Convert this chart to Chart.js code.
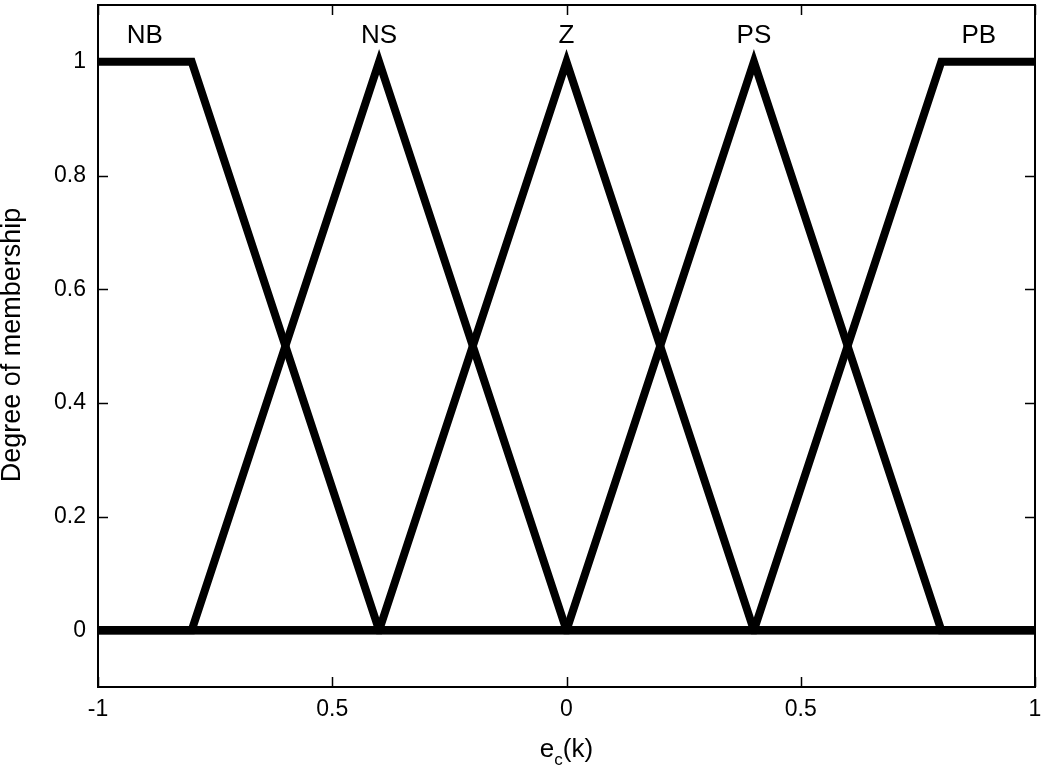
<!DOCTYPE html>
<html>
<head>
<meta charset="utf-8">
<script src="https://cdn.jsdelivr.net/npm/chart.js@4"></script>
<style>
  html, body { margin: 0; padding: 0; background: #fff; }
  #wrap { width: 1041px; height: 772px; }
</style>
</head>
<body>
<div id="wrap"><canvas id="mfChart"></canvas></div>
<script>
// membership functions (x = e_c(k), y = degree)
const nbX = [-1, -0.8, -0.4, 1];
const nbY = [1, 1, 0, 0];
const nsX = [-1, -0.8, -0.4, 0, 1];
const nsY = [0, 0, 1, 0, 0];
const zX = [-1, -0.4, 0, 0.4, 1];
const zY = [0, 0, 1, 0, 0];
const psX = [-1, 0, 0.4, 0.8, 1];
const psY = [0, 0, 1, 0, 0];
const pbX = [-1, 0.4, 0.8, 1];
const pbY = [0, 0, 1, 1];

const setNames = ["NB", "NS", "Z", "PS", "PB"];
const setLabelX = [-0.9, -0.4, 0, 0.4, 0.88];
const setLabelY = 1.045;

const xTicks = [-1, -0.5, 0, 0.5, 1];
const xTickLabels = ["-1", "0.5", "0", "0.5", "1"];
const yTicks = [0, 0.2, 0.4, 0.6, 0.8, 1];
const yTickLabels = ["0", "0.2", "0.4", "0.6", "0.8", "1"];

const FONT = "'Liberation Sans', Arial, Helvetica, sans-serif";

function toPoints(xs, ys) {
  return xs.map((x, i) => ({ x: x, y: ys[i] }));
}

function lineSet(xs, ys) {
  return {
    data: toPoints(xs, ys),
    borderColor: "#000",
    borderWidth: 8,
    pointRadius: 0,
    tension: 0,
    fill: false,
    borderJoinStyle: "miter",
    borderCapStyle: "butt"
  };
}

// frame, inward ticks, set names and axis titles
const decorations = {
  id: "decorations",
  afterDraw(chart) {
    const { ctx, chartArea: a, scales } = chart;
    const xs = scales.x, ys = scales.y;
    ctx.save();
    ctx.strokeStyle = "#000";
    ctx.lineWidth = 2;
    ctx.strokeRect(a.left, a.top, a.right - a.left, a.bottom - a.top);

    ctx.beginPath();
    xTicks.forEach(v => {
      const px = Math.round(xs.getPixelForValue(v)) + 0.5;
      ctx.moveTo(px, a.bottom); ctx.lineTo(px, a.bottom - 10);
      ctx.moveTo(px, a.top); ctx.lineTo(px, a.top + 10);
    });
    yTicks.forEach(v => {
      const py = Math.round(ys.getPixelForValue(v)) + 0.5;
      ctx.moveTo(a.left, py); ctx.lineTo(a.left + 10, py);
      ctx.moveTo(a.right, py); ctx.lineTo(a.right - 10, py);
    });
    ctx.lineWidth = 1.5;
    ctx.stroke();

    ctx.fillStyle = "#000";
    ctx.font = "26px " + FONT;
    ctx.textAlign = "center";
    ctx.textBaseline = "middle";
    setNames.forEach((name, i) => {
      ctx.fillText(name, xs.getPixelForValue(setLabelX[i]), ys.getPixelForValue(setLabelY));
    });

    // x title: e_c(k)
    const cx = (a.left + a.right) / 2;
    const ty = 757;
    ctx.font = "26px " + FONT;
    ctx.textAlign = "left";
    ctx.textBaseline = "alphabetic";
    const wE = ctx.measureText("e").width;
    ctx.font = "17px " + FONT;
    const wC = ctx.measureText("c").width;
    ctx.font = "26px " + FONT;
    const wK = ctx.measureText("(k)").width;
    const x0 = cx - (wE + wC + wK) / 2;
    ctx.fillText("e", x0, ty);
    ctx.font = "17px " + FONT;
    ctx.fillText("c", x0 + wE, ty + 8);
    ctx.font = "26px " + FONT;
    ctx.fillText("(k)", x0 + wE + wC, ty);

    // y title
    ctx.translate(13, 345);
    ctx.rotate(-Math.PI / 2);
    ctx.textAlign = "center";
    ctx.textBaseline = "middle";
    ctx.font = "27px " + FONT;
    ctx.fillText("Degree of membership", 0, 0);
    ctx.restore();
  }
};

const ctx = document.getElementById("mfChart").getContext("2d");

new Chart(ctx, {
  type: "line",
  data: {
    datasets: [
      lineSet(nbX, nbY),
      lineSet(nsX, nsY),
      lineSet(zX, zY),
      lineSet(psX, psY),
      lineSet(pbX, pbY)
    ]
  },
  options: {
    responsive: true,
    maintainAspectRatio: false,
    animation: false,
    layout: { padding: { left: 0, right: 6, top: 5, bottom: 0 } },
    plugins: {
      legend: { display: false },
      tooltip: { enabled: false }
    },
    scales: {
      x: {
        type: "linear",
        min: -1,
        max: 1,
        grid: { display: false, drawTicks: false },
        border: { display: false },
        afterBuildTicks: s => { s.ticks = xTicks.map(v => ({ value: v })); },
        afterFit: s => {
          s.height = 85;
          s.paddingLeft = 0;
          s.paddingRight = 0;
        },
        ticks: {
          padding: 9,
          color: "#000",
          maxRotation: 0,
          font: { family: FONT, size: 23 },
          callback: v => xTickLabels[xTicks.indexOf(v)]
        }
      },
      y: {
        type: "linear",
        min: -0.1,
        max: 1.1,
        grid: { display: false, drawTicks: false },
        border: { display: false },
        afterBuildTicks: s => { s.ticks = yTicks.map(v => ({ value: v })); },
        afterFit: s => {
          s.width = 98;
          s.paddingTop = 0;
          s.paddingBottom = 0;
        },
        ticks: {
          padding: 12,
          color: "#000",
          font: { family: FONT, size: 23 },
          callback: v => yTickLabels[yTicks.findIndex(t => Math.abs(t - v) < 1e-9)]
        }
      }
    }
  },
  plugins: [decorations]
});
</script>
</body>
</html>
